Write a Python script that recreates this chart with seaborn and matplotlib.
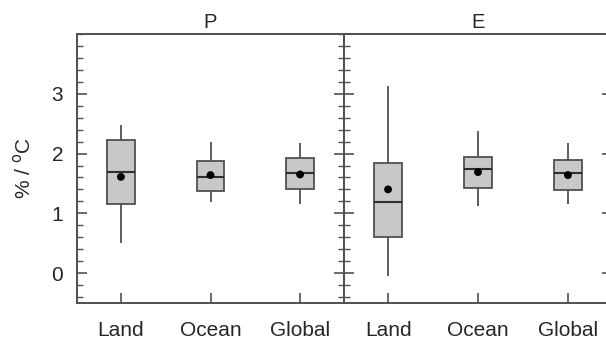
import numpy as np
import pandas as pd
import seaborn as sns
import matplotlib.pyplot as plt
from matplotlib.ticker import MultipleLocator

# box statistics: lower whisker, q1, median, q3, upper whisker
regions = ['Land', 'Ocean', 'Global']
p_low = [0.50, 1.19, 1.15]
p_q1 = [1.15, 1.38, 1.40]
p_med = [1.69, 1.60, 1.68]
p_q3 = [2.22, 1.87, 1.92]
p_high = [2.48, 2.20, 2.17]
p_mean = [1.61, 1.64, 1.65]

e_low = [-0.05, 1.13, 1.15]
e_q1 = [0.60, 1.43, 1.39]
e_med = [1.19, 1.75, 1.67]
e_q3 = [1.85, 1.94, 1.90]
e_high = [3.13, 2.37, 2.17]
e_mean = [1.40, 1.69, 1.64]

sns.set_style('ticks')
plt.rcParams['font.family'] = ['Liberation Sans', 'DejaVu Sans']
plt.rcParams['font.size'] = 15


def five_points(low, q1, med, q3, high):
    # five values per group give exactly these quartiles with whis=inf
    rows = []
    for i, r in enumerate(regions):
        for v in (low[i], q1[i], med[i], q3[i], high[i]):
            rows.append({'region': r, 'value': v})
    return pd.DataFrame(rows)


fig = plt.figure(figsize=(6.06, 3.39), dpi=100)
ax1 = fig.add_axes([77 / 606, 36 / 339, 267 / 606, 269 / 339])
ax2 = fig.add_axes([344 / 606, 36 / 339, 268 / 606, 269 / 339])

panels = [
    (ax1, 'P', five_points(p_low, p_q1, p_med, p_q3, p_high), p_mean),
    (ax2, 'E', five_points(e_low, e_q1, e_med, e_q3, e_high), e_mean),
]

edge = '#505050'
for ax, title, df, means in panels:
    sns.boxplot(data=df, x='region', y='value', order=regions, ax=ax,
                whis=np.inf, width=0.31, color='#c8c8c8', saturation=1,
                linecolor=edge, linewidth=1.3,
                medianprops={'color': '#303030', 'linewidth': 1.5},
                capprops={'linewidth': 0}, showcaps=False)
    sns.scatterplot(x=regions, y=means, ax=ax, color='black', s=32,
                    edgecolor='none', zorder=5)
    ax.set_xlim(-0.49, 2.49)
    ax.set_ylim(-0.5, 4.0)
    ax.set_title(title, fontsize=14.5, pad=4)
    ax.set_xlabel('')
    ax.set_ylabel('')
    ax.yaxis.set_major_locator(MultipleLocator(1))
    ax.yaxis.set_minor_locator(MultipleLocator(0.2))
    ax.tick_params(axis='x', direction='in', length=7, width=1.2,
                   color=edge, top=False, pad=13, labelsize=15)
    ax.tick_params(axis='y', which='major', direction='in', length=7.5,
                   width=1.2, color=edge, left=True, right=True)
    ax.tick_params(axis='y', which='minor', direction='in', length=4.5,
                   width=1.0, color=edge, left=True, right=True)
    for s in ax.spines.values():
        s.set_color(edge)
        s.set_linewidth(1.4)

ax1.set_yticks([0, 1, 2, 3])
ax1.tick_params(axis='y', labelsize=15, pad=10)
ax1.set_ylabel('% / $^{\\mathrm{o}}$C', fontsize=15, labelpad=12)
ax2.tick_params(axis='y', labelleft=False)

fig.savefig('out.png', dpi=100)
